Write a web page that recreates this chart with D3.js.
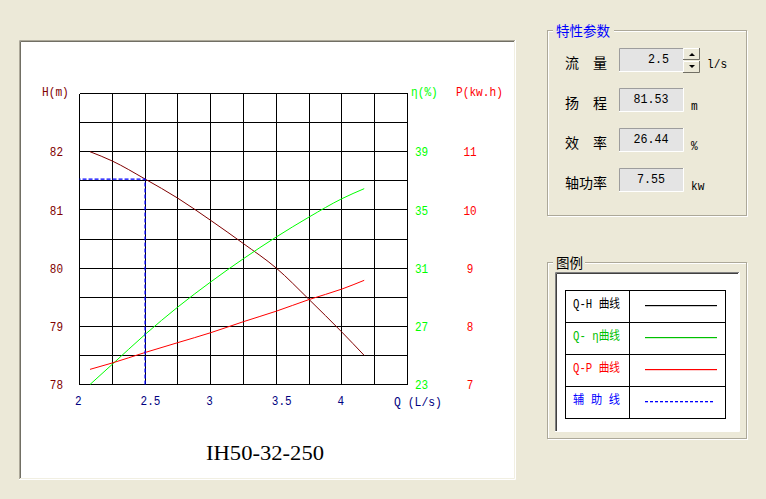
<!DOCTYPE html>
<html>
<head>
  <meta charset="utf-8">
  <title>IH50-32-250</title>
  <script src="https://d3js.org/d3.v7.min.js"></script>
  <style>
    body { margin: 0; background: #ECE9D8; }
    svg { display: block; }
    .mono { font-family: "Liberation Mono", "DejaVu Sans Mono", monospace; }
    .cjk { font-family: "Noto Sans CJK SC", "Noto Sans", sans-serif; }
  </style>
</head>
<body>
  <div id="chart"></div>
  <script>
    // pump curve readings (Q in L/s)
    var flowQ  = [2.08, 2.25, 2.5, 2.75, 3.0, 3.25, 3.5, 3.75, 4.0, 4.17];
    var headH  = [82.0, 81.84, 81.53, 81.2, 80.82, 80.42, 80.0, 79.46, 78.9, 78.5];
    var effEta = [23.0, 24.39, 26.44, 28.33, 30.05, 31.65, 33.14, 34.51, 35.77, 36.46];
    var powerP = [7.26, 7.37, 7.55, 7.72, 7.89, 8.08, 8.26, 8.46, 8.64, 8.79];

    var qTicks   = [2, 2.5, 3, 3.5, 4];
    var hTicks   = [78, 79, 80, 81, 82];
    var etaTicks = [23, 27, 31, 35, 39];
    var pTicks   = [7, 8, 9, 10, 11];

    // operating point shown in the panel
    var paramNames  = ["流　量", "扬　程", "效　率", "轴功率"];
    var paramValues = ["2.5", "81.53", "26.44", "7.55"];
    var paramUnits  = ["l/s", "m", "%", "kw"];

    var legendNames  = ["Q-H 曲线", "Q- η曲线", "Q-P 曲线", "辅 助 线"];
    var legendColors = ["#000000", "#00c000", "#ff0000", "#0000ff"];

    var svg = d3.select("#chart").append("svg")
                .attr("width", 766)
                .attr("height", 499);

    svg.append("rect").attr("width", 766).attr("height", 499).attr("fill", "#ECE9D8");

    // squeeze mono text to the narrow look of the original font
    function fit(sel, perChar) {
      sel.attr("textLength", function() { return this.textContent.length * perChar; })
         .attr("lengthAdjust", "spacingAndGlyphs");
    }

    // chart panel (sunken)
    svg.append("rect").attr("x", 19).attr("y", 40).attr("width", 496).attr("height", 440).attr("fill", "#fff");
    svg.append("path").attr("d", "M19.5,479V40.5H515").attr("fill", "none").attr("stroke", "#ACA899");
    svg.append("path").attr("d", "M20.5,478V41.5H514").attr("fill", "none").attr("stroke", "#716F64");
    svg.append("path").attr("d", "M19,479.5H515.5V40").attr("fill", "none").attr("stroke", "#fff");
    svg.append("path").attr("d", "M20,478.5H514.5V41").attr("fill", "none").attr("stroke", "#F1EFE2");

    var x = d3.scaleLinear().domain([2, 4.5]).range([79.5, 407.5]);
    var yH = d3.scaleLinear().domain([78, 83]).range([384.5, 93.5]);
    var yEta = d3.scaleLinear().domain([23, 43]).range([384.5, 93.5]);
    var yP = d3.scaleLinear().domain([7, 12]).range([384.5, 93.5]);

    // grid
    var grid = svg.append("g").attr("stroke", "#000").attr("shape-rendering", "crispEdges");
    grid.selectAll(".v").data(d3.range(0, 11)).enter().append("line")
        .attr("x1", d => x(2 + d * 0.25)).attr("x2", d => x(2 + d * 0.25))
        .attr("y1", yH(78)).attr("y2", yH(83));
    grid.selectAll(".h").data(d3.range(0, 11)).enter().append("line")
        .attr("x1", x(2)).attr("x2", x(4.5))
        .attr("y1", d => yH(78 + d * 0.5)).attr("y2", d => yH(78 + d * 0.5));

    // axes
    function styleAxis(g, color) {
      g.select(".domain").remove();
      g.selectAll("text").attr("class", "mono").attr("fill", color).style("font-size", "13px")
       .call(fit, 6.6);
    }

    svg.append("g").attr("transform", "translate(66,0)")
       .call(d3.axisLeft(yH).tickValues(hTicks).tickSize(0).tickPadding(3).tickFormat(d3.format("d")))
       .call(g => styleAxis(g, "#800000"));

    svg.append("g").attr("transform", "translate(412,0)")
       .call(d3.axisRight(yEta).tickValues(etaTicks).tickSize(0).tickPadding(3).tickFormat(d3.format("d")))
       .call(g => styleAxis(g, "#00ff00"));

    svg.append("g").attr("transform", "translate(470,0)")
       .call(d3.axisRight(yP).tickValues(pTicks).tickSize(0).tickPadding(0).tickFormat(d3.format("d")))
       .call(g => styleAxis(g, "#ff0000"))
       .call(g => g.selectAll("text").attr("text-anchor", "middle").attr("x", 0));

    svg.append("g").attr("transform", "translate(0,384)")
       .call(d3.axisBottom(x).tickValues(qTicks).tickSize(0).tickPadding(12).tickFormat(d => d))
       .call(g => styleAxis(g, "#000080"))
       .call(g => g.selectAll("text").attr("text-anchor", "start").attr("x", -5));

    var heads = [["H(m)", 42, "#800000"], ["η(%)", 411, "#00ff00"], ["P(kw.h)", 456, "#ff0000"]];
    svg.selectAll(".hdr").data(heads).enter().append("text")
       .attr("class", "mono").attr("x", d => d[1]).attr("y", 96)
       .attr("fill", d => d[2]).style("font-size", "13px").text(d => d[0])
       .call(fit, 6.7);

    svg.append("text").attr("class", "mono").attr("x", 394).attr("y", 406)
       .attr("fill", "#000080").style("font-size", "13px").text("Q (L/s)")
       .call(fit, 6.85);

    // curves
    function series(vals) { return flowQ.map((q, i) => [q, vals[i]]); }
    function curve(ys) {
      return d3.line().x(d => x(d[0])).y(d => ys(d[1])).curve(d3.curveMonotoneX);
    }
    svg.append("path").datum(series(headH)).attr("fill", "none").attr("stroke", "#800000").attr("d", curve(yH));
    svg.append("path").datum(series(effEta)).attr("fill", "none").attr("stroke", "#00ff00").attr("d", curve(yEta));
    svg.append("path").datum(series(powerP)).attr("fill", "none").attr("stroke", "#ff0000").attr("d", curve(yP));

    // auxiliary line to the operating point
    var opQ = +paramValues[0], opH = +paramValues[1];
    svg.append("path")
       .attr("d", `M${x(opQ)},${yH(78)}V${yH(opH)}H${x(2)}`)
       .attr("fill", "none").attr("stroke", "#0000ff").attr("stroke-width", 1.3)
       .attr("stroke-dasharray", "4,2");

    svg.append("text").attr("x", 265).attr("y", 460).attr("text-anchor", "middle")
       .attr("textLength", 118).attr("lengthAdjust", "spacingAndGlyphs")
       .style("font-family", "'Liberation Serif', serif").style("font-size", "20px")
       .text("IH50-32-250");

    // group boxes
    function groupBox(x0, y0, x1, y1, title, tw, color) {
      svg.append("rect").attr("x", x0 + 0.5).attr("y", y0 + 0.5).attr("width", x1 - x0).attr("height", y1 - y0)
         .attr("fill", "none").attr("stroke", "#fff");
      svg.append("rect").attr("x", x0 - 0.5).attr("y", y0 - 0.5).attr("width", x1 - x0).attr("height", y1 - y0)
         .attr("fill", "none").attr("stroke", "#ACA899");
      svg.append("rect").attr("x", 553).attr("y", y0 - 7).attr("width", tw).attr("height", 14).attr("fill", "#ECE9D8");
      svg.append("text").attr("class", "cjk").attr("x", 556).attr("y", y0 + 4.5)
         .attr("fill", color).style("font-size", "13.5px").text(title);
    }
    groupBox(548, 31, 747, 216, "特性参数", 61, "#0000ff");
    groupBox(548, 263, 747, 439, "图例", 32, "#000");

    // parameter rows
    var rowY = [48, 88, 128, 168];
    paramNames.forEach(function(name, i) {
      var y0 = rowY[i];
      svg.append("text").attr("class", "cjk").attr("x", 565).attr("y", y0 + 20)
         .style("font-size", "14px").text(name);
      svg.append("rect").attr("x", 619).attr("y", y0).attr("width", 64).attr("height", 24).attr("fill", "#E4E4E4");
      svg.append("path").attr("d", `M619.5,${y0 + 24}V${y0 + 0.5}H683`).attr("fill", "none").attr("stroke", "#9D9D9D");
      svg.append("path").attr("d", `M619,${y0 + 23.5}H683.5V${y0}`).attr("fill", "none").attr("stroke", "#fff");
      svg.append("text").attr("class", "mono")
         .attr("x", i === 0 ? 669 : 651).attr("y", y0 + 15)
         .attr("text-anchor", i === 0 ? "end" : "middle")
         .style("font-size", "13px").text(paramValues[i])
         .call(fit, 7);
      svg.append("text").attr("class", "mono")
         .attr("x", i === 0 ? 707 : 691).attr("y", y0 + (i === 0 ? 20 : 22))
         .style("font-size", "12.5px").text(paramUnits[i])
         .call(fit, 6.7);
    });

    // spin buttons
    [[48, "up"], [61, "down"]].forEach(function(b) {
      var by = b[0];
      svg.append("rect").attr("x", 683).attr("y", by).attr("width", 17).attr("height", 12).attr("fill", "#ECE9D8");
      svg.append("path").attr("d", `M683.5,${by + 12}V${by + 0.5}H700`).attr("fill", "none").attr("stroke", "#fff");
      svg.append("path").attr("d", `M683,${by + 11.5}H699.5V${by}`).attr("fill", "none").attr("stroke", "#716F64");
      var tri = b[1] === "up"
        ? `M689,${by + 8}L692,${by + 5}L695,${by + 8}Z`
        : `M689,${by + 4}L692,${by + 7}L695,${by + 4}Z`;
      svg.append("path").attr("d", tri).attr("fill", "#000");
    });

    // legend inner box
    svg.append("rect").attr("x", 555).attr("y", 272).attr("width", 184).attr("height", 160).attr("fill", "#fff");
    svg.append("path").attr("d", "M555.5,432V272.5H739").attr("fill", "none").attr("stroke", "#808080");
    svg.append("path").attr("d", "M556.5,431V273.5H738").attr("fill", "none").attr("stroke", "#404040");
    svg.append("path").attr("d", "M555,431.5H739.5V272").attr("fill", "none").attr("stroke", "#fff");

    var lgX0 = 565.5, lgXm = 629.5, lgX1 = 725.5, lgY0 = 290.5, lgRow = 32;
    var lg = svg.append("g").attr("stroke", "#000").attr("fill", "none").attr("shape-rendering", "crispEdges");
    lg.append("rect").attr("x", lgX0).attr("y", lgY0).attr("width", lgX1 - lgX0).attr("height", lgRow * 4);
    lg.append("line").attr("x1", lgXm).attr("x2", lgXm).attr("y1", lgY0).attr("y2", lgY0 + lgRow * 4);
    d3.range(1, 4).forEach(i => lg.append("line").attr("x1", lgX0).attr("x2", lgX1)
        .attr("y1", lgY0 + i * lgRow).attr("y2", lgY0 + i * lgRow));

    legendNames.forEach(function(name, i) {
      var top = lgY0 - 0.5 + i * lgRow;
      svg.append("text").attr("x", 573).attr("y", top + 18)
         .style("font-family", "'Liberation Mono', 'Noto Sans CJK SC', monospace")
         .style("font-size", "12.5px").attr("fill", legendColors[i])
         .attr("textLength", 47).attr("lengthAdjust", "spacingAndGlyphs")
         .text(name);
      if (i < 3) {
        svg.append("rect").attr("x", 645).attr("y", top + 15)
           .attr("width", 72).attr("height", 1.2).attr("fill", legendColors[i]);
      } else {
        // dashed guide sample, drawn as small blue dashes
        svg.append("g").selectAll("rect").data(d3.range(645, 715, 5)).enter().append("rect")
           .attr("x", d => d).attr("y", top + 15).attr("width", 3).attr("height", 1.3)
           .attr("fill", legendColors[i]);
      }
    });
  </script>
</body>
</html>
